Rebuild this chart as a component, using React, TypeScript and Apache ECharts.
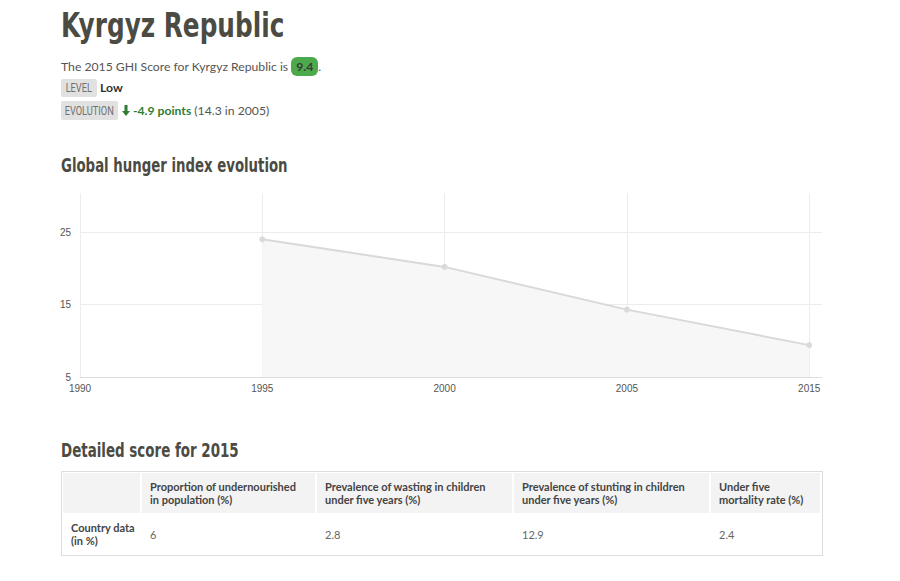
import React, { useEffect, useRef } from "react";
import * as echarts from "echarts";

const years = ["1990", "1995", "2000", "2005", "2015"];
const ghiValues: (number | null)[] = [null, 24.0, 20.2, 14.3, 9.4];
const yTicks = [5, 15, 25];
const tableHeaders = [
  "",
  "Proportion of undernourished in population (%)",
  "Prevalence of wasting in children under five years (%)",
  "Prevalence of stunting in children under five years (%)",
  "Under five mortality rate (%)",
];
const tableRowLabel = "Country data (in %)";
const tableValues = ["6", "2.8", "12.9", "2.4"];

const heading = "'DejaVu Sans',sans-serif";
const body = "Lato,'Noto Sans',sans-serif";
const dark = "#4b4b43";

function Chart() {
  const ref = useRef<HTMLDivElement>(null);
  useEffect(() => {
    if (!ref.current) return;
    const chart = echarts.init(ref.current, undefined, { renderer: "svg" });
    const seriesData = ghiValues
      .map((v, i) => (v === null ? null : [i, v]))
      .filter((d) => d !== null);
    const gridLine = { color: "#ececec", width: 1, type: "solid" };
    chart.setOption({
      animation: false,
      grid: { left: 80, right: 78, top: 13, bottom: 24 },
      xAxis: {
        type: "value",
        min: 0,
        max: 4.07,
        axisLine: { show: true, lineStyle: { color: "#dddddd" } },
        axisTick: { show: false },
        splitLine: { show: false },
        axisLabel: {
          customValues: years.map((_, i) => i),
          formatter: (v: number) => years[v] ?? "",
          color: "#555",
          fontSize: 10,
          fontFamily: "'Liberation Sans',Arial,sans-serif",
          margin: 6,
        },
      },
      yAxis: {
        type: "value",
        min: 5,
        max: 30.4,
        axisLine: { show: false },
        axisTick: { show: false },
        splitLine: { show: false },
        axisLabel: {
          customValues: yTicks,
          color: "#555",
          fontSize: 10,
          fontFamily: "'Liberation Sans',Arial,sans-serif",
          margin: 9,
        },
      },
      series: [
        {
          type: "line",
          data: seriesData,
          symbol: "circle",
          symbolSize: 6,
          showSymbol: true,
          lineStyle: { color: "#d9d9d9", width: 2 },
          itemStyle: { color: "#dadada" },
          areaStyle: { color: "#f7f7f7", opacity: 1 },
          z: 3,
          markLine: {
            silent: true,
            symbol: ["none", "none"],
            label: { show: false },
            lineStyle: gridLine,
            z: 1,
            data: [
              ...yTicks.slice(1).map((t) => ({ yAxis: t, lineStyle: gridLine })),
              ...years.map((_, i) => ({ xAxis: i, lineStyle: gridLine })),
            ],
          },
        },
      ],
    });
    return () => chart.dispose();
  }, []);
  return (
    <div
      ref={ref}
      style={{ position: "absolute", left: 0, top: 180, width: 900, height: 221 }}
    />
  );
}

const colLeft = [63, 142, 317, 514, 711];
const colRight = [140, 315, 512, 709, 820];

function Heading(props: { text: string; top: number; size: number; scale: number }) {
  return (
    <div
      style={{
        position: "absolute",
        left: 61,
        top: props.top,
        fontFamily: heading,
        fontWeight: 700,
        fontSize: props.size,
        lineHeight: props.size + "px",
        color: dark,
        whiteSpace: "nowrap",
        transform: `scaleX(${props.scale})`,
        transformOrigin: "0 0",
      }}
    >
      {props.text}
    </div>
  );
}

function Badge(props: { text: string; top: number; width: number; height: number }) {
  return (
    <div
      style={{
        position: "absolute",
        left: 61,
        top: props.top,
        width: props.width,
        height: props.height,
        background: "#e1e1e1",
        borderRadius: 2,
        display: "flex",
        justifyContent: "center",
        alignItems: "center",
      }}
    >
      <span
        style={{
          display: "block",
          flex: "none",
          fontFamily: "Roboto,sans-serif",
          fontSize: 12.5,
          lineHeight: props.height + "px",
          color: "#707070",
          transform: "scaleX(0.74)",
          transformOrigin: "50% 50%",
          whiteSpace: "nowrap",
        }}
      >
        {props.text}
      </span>
    </div>
  );
}

export default function App() {
  return (
    <div
      style={{
        position: "fixed",
        left: 0,
        top: 0,
        width: 900,
        height: 581,
        background: "#fff",
        overflow: "hidden",
      }}
    >
      <Heading text="Kyrgyz Republic" top={9} size={33} scale={0.75} />
      <div
        style={{
          position: "absolute",
          left: 61,
          top: 57,
          fontFamily: body,
          fontSize: 12.2,
          color: "#555",
          whiteSpace: "nowrap",
          lineHeight: "18px",
        }}
      >
        The 2015 GHI Score for Kyrgyz Republic is{" "}
        <span
          style={{
            display: "inline-block",
            background: "#4caa4c",
            color: "#3a3a3a",
            fontWeight: 700,
            borderRadius: 6,
            padding: "0 5px",
            lineHeight: "19px",
          }}
        >
          9.4
        </span>
        .
      </div>
      <Badge text="LEVEL" top={79} width={36} height={18} />
      <div
        style={{
          position: "absolute",
          left: 100,
          top: 79,
          fontFamily: body,
          fontWeight: 700,
          fontSize: 12.2,
          color: "#333",
          lineHeight: "18px",
        }}
      >
        Low
      </div>
      <Badge text="EVOLUTION" top={101} width={57} height={19} />
      <svg
        style={{ position: "absolute", left: 122, top: 105 }}
        width={8}
        height={11}
        viewBox="0 0 8 11"
      >
        <polygon points="2.5,0 5.5,0 5.5,6 8,6 4,11 0,6 2.5,6" fill="#2f7d32" />
      </svg>
      <div
        style={{
          position: "absolute",
          left: 133,
          top: 101,
          fontFamily: body,
          fontSize: 12.2,
          color: "#555",
          lineHeight: "19px",
          whiteSpace: "nowrap",
        }}
      >
        <span style={{ color: "#2f7d32", fontWeight: 700 }}>-4.9 points</span> (14.3 in 2005)
      </div>
      <Heading text="Global hunger index evolution" top={156} size={19} scale={0.7} />
      <Chart />
      <Heading text="Detailed score for 2015" top={441} size={19} scale={0.707} />
      <div
        style={{
          position: "absolute",
          left: 61,
          top: 471,
          width: 760,
          height: 83,
          border: "1px solid #dddddd",
        }}
      />
      {tableHeaders.map((h, i) => (
        <div
          key={"h" + i}
          style={{
            position: "absolute",
            left: colLeft[i],
            top: 473,
            width: colRight[i] - colLeft[i],
            height: 40,
            background: "#f3f3f3",
            boxSizing: "border-box",
            padding: "7px 8px 0 8px",
            fontFamily: body,
            fontWeight: 700,
            fontSize: 11,
            lineHeight: "13px",
            color: "#444",
          }}
        >
          {h}
        </div>
      ))}
      <div
        style={{
          position: "absolute",
          left: 71,
          top: 521,
          width: 68,
          fontFamily: body,
          fontWeight: 700,
          fontSize: 11,
          lineHeight: "13px",
          color: "#444",
        }}
      >
        {tableRowLabel}
      </div>
      {tableValues.map((v, i) => (
        <div
          key={"v" + i}
          style={{
            position: "absolute",
            left: colLeft[i + 1] + 8,
            top: 528,
            fontFamily: body,
            fontSize: 11,
            lineHeight: "13px",
            color: "#666",
          }}
        >
          {v}
        </div>
      ))}
    </div>
  );
}
